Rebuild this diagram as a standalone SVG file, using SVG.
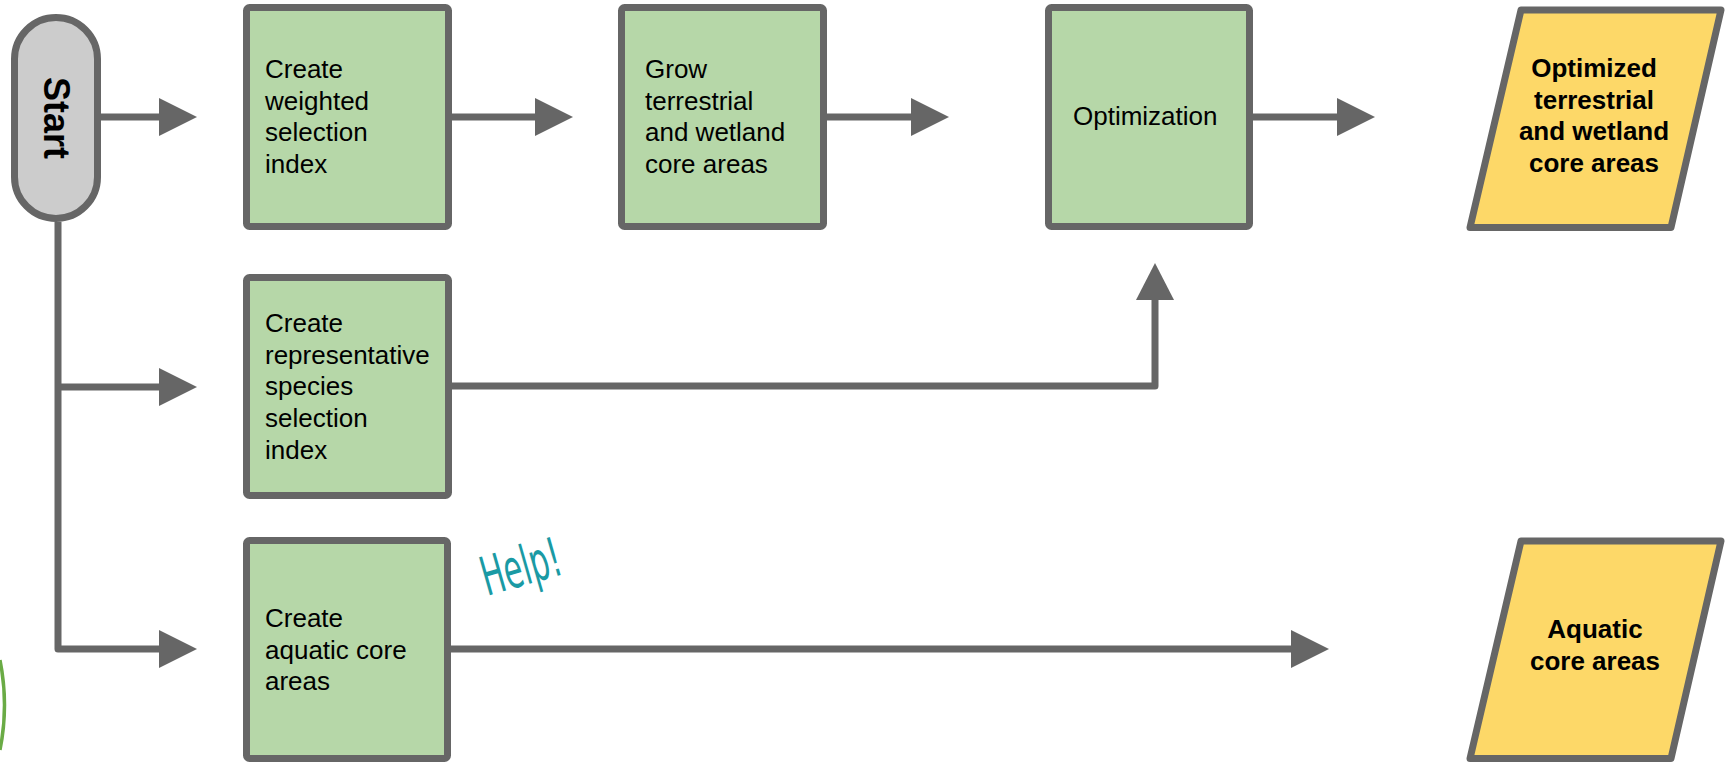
<svg xmlns="http://www.w3.org/2000/svg" width="1727" height="765" viewBox="0 0 1727 765">
  <style>
    .step { fill: #b6d7a8; stroke: #666666; stroke-width: 7; stroke-linejoin: round; }
    .data { fill: #fdd868; stroke: #666666; stroke-width: 7; stroke-linejoin: round; }
    .term { fill: #cccccc; stroke: #666666; stroke-width: 7; }
    .lbl { font-family: "Liberation Sans", Arial, sans-serif; font-size: 26px; fill: #000000; }
    .blbl { font-family: "Liberation Sans", Arial, sans-serif; font-size: 26px; font-weight: bold; fill: #000000; text-anchor: middle; }
    .wire { fill: none; stroke: #666666; stroke-width: 7; stroke-linejoin: round; }
    .head { fill: #666666; }
  </style>

  <rect width="1727" height="765" fill="#ffffff"/>

  <!-- edge of a logo, cut off at the left border -->
  <path d="M0,660 Q9,705 0,750" fill="none" stroke="#6aab45" stroke-width="3.5"/>

  <!-- connectors -->
  <g id="connectors">
    <!-- Start -> weighted selection index -->
    <line class="wire" x1="101" y1="117" x2="160" y2="117"/>
    <polygon class="head" points="159,98 197,117 159,136"/>
    <!-- weighted selection index -> grow core areas -->
    <line class="wire" x1="452" y1="117" x2="536" y2="117"/>
    <polygon class="head" points="535,98 573,117 535,136"/>
    <!-- grow core areas -> optimization -->
    <line class="wire" x1="827" y1="117" x2="912" y2="117"/>
    <polygon class="head" points="911,98 949,117 911,136"/>
    <!-- optimization -> optimized core areas -->
    <line class="wire" x1="1253" y1="117" x2="1338" y2="117"/>
    <polygon class="head" points="1337,98 1375,117 1337,136"/>
    <!-- Start trunk with branches to the lower steps -->
    <polyline class="wire" points="58,222 58,649 160,649"/>
    <line class="wire" x1="58" y1="387" x2="160" y2="387"/>
    <polygon class="head" points="159,368 197,387 159,406"/>
    <polygon class="head" points="159,630 197,649 159,668"/>
    <!-- representative species index -> optimization -->
    <polyline class="wire" points="452,386 1155,386 1155,299"/>
    <polygon class="head" points="1136,300 1155,263 1174,300"/>
    <!-- aquatic core areas -> output -->
    <line class="wire" x1="451" y1="649" x2="1292" y2="649"/>
    <polygon class="head" points="1291,630 1329,649 1291,668"/>
  </g>

  <g id="start">
    <rect class="term" x="14.5" y="17.5" width="83" height="201" rx="41.5"/>
    <text class="blbl" style="font-size:36px" transform="translate(44,118) rotate(90)">Start</text>
  </g>

  <g id="weighted-index">
    <rect class="step" x="246.5" y="7.5" width="202" height="219" rx="3"/>
    <text class="lbl" x="265" y="78">Create</text>
    <text class="lbl" x="265" y="109.7">weighted</text>
    <text class="lbl" x="265" y="141.4">selection</text>
    <text class="lbl" x="265" y="173.1">index</text>
  </g>

  <g id="grow-core">
    <rect class="step" x="621.5" y="7.5" width="202" height="219" rx="3"/>
    <text class="lbl" x="645" y="78">Grow</text>
    <text class="lbl" x="645" y="109.7">terrestrial</text>
    <text class="lbl" x="645" y="141.4">and wetland</text>
    <text class="lbl" x="645" y="173.1">core areas</text>
  </g>

  <g id="optimization">
    <rect class="step" x="1048.5" y="7.5" width="201" height="219" rx="3"/>
    <text class="lbl" x="1073" y="125">Optimization</text>
  </g>

  <g id="optimized-output">
    <polygon class="data" points="1521,10 1721,10 1671,227.5 1470,227.5"/>
    <text class="blbl" x="1594" y="77">Optimized</text>
    <text class="blbl" x="1594" y="108.5">terrestrial</text>
    <text class="blbl" x="1594" y="140">and wetland</text>
    <text class="blbl" x="1594" y="171.5">core areas</text>
  </g>

  <g id="species-index">
    <rect class="step" x="246.5" y="277.5" width="202" height="218" rx="3"/>
    <text class="lbl" x="265" y="332">Create</text>
    <text class="lbl" x="265" y="363.7">representative</text>
    <text class="lbl" x="265" y="395.4">species</text>
    <text class="lbl" x="265" y="427.1">selection</text>
    <text class="lbl" x="265" y="458.8">index</text>
  </g>

  <g id="aquatic-core">
    <rect class="step" x="246.5" y="540.5" width="201" height="218" rx="3"/>
    <text class="lbl" x="265" y="627">Create</text>
    <text class="lbl" x="265" y="658.7">aquatic core</text>
    <text class="lbl" x="265" y="690.4">areas</text>
  </g>

  <g id="help-note">
    <text transform="translate(487,596) rotate(-16) scale(0.56,1)" font-family="'DejaVu Sans', sans-serif" font-size="54" fill="#1a9aa4">Help!</text>
  </g>

  <g id="aquatic-output">
    <polygon class="data" points="1521,541 1721,541 1671,758.5 1470,758.5"/>
    <text class="blbl" x="1595" y="638">Aquatic</text>
    <text class="blbl" x="1595" y="670">core areas</text>
  </g>
</svg>
